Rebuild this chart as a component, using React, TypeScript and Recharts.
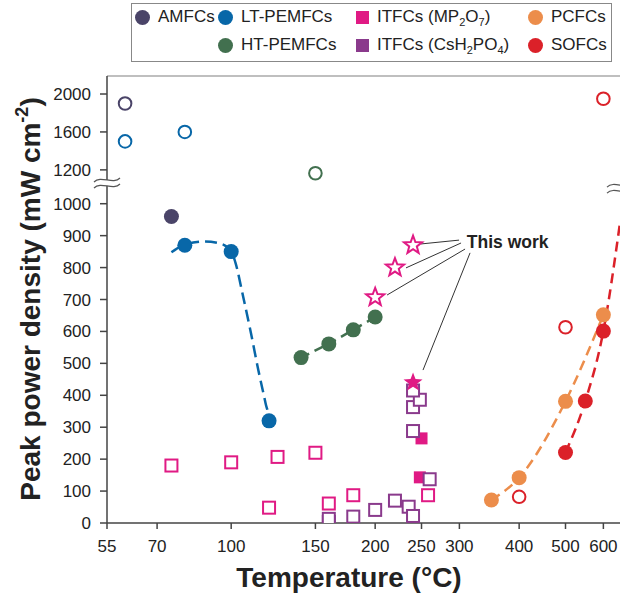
import React from 'react'
import {
  ComposedChart,
  Scatter,
  Line,
  XAxis,
  YAxis,
  ReferenceLine,
  ReferenceDot,
} from 'recharts'

// temperature (°C) and peak power density (mW cm-2)
const amfcOpenT = [60]
const amfcOpenP = [1900]
const amfcT = [75]
const amfcP = [960]

const ltOpenT = [60, 80]
const ltOpenP = [1500, 1600]
const ltT = [80, 100, 120]
const ltP = [870, 850, 320]
const ltFitT = [75, 80, 88, 95, 100, 102, 106, 110, 114, 118, 120, 120.5]
const ltFitP = [848, 872, 882, 875, 852, 817, 707, 594, 478, 375, 322, 290]

const htOpenT = [150]
const htOpenP = [1180]
const htT = [140, 160, 180, 200]
const htP = [518, 561, 605, 645]

const mpOpenT = [75, 100, 120, 125, 150, 160, 180, 258]
const mpOpenP = [180, 190, 48, 207, 220, 61, 87, 87]
const mpT = [250, 248]
const mpP = [265, 143]

const csOpenT = [160, 160, 180, 200, 220, 235, 240, 240, 240, 248, 240, 260]
const csOpenP = [3, 13, 20, 41, 70, 51, 22, 288, 363, 386, 415, 137]

const starOpenT = [200, 220, 240]
const starOpenP = [707, 800, 870]
const starT = [240]
const starP = [440]

const pcT = [350, 400, 500, 600]
const pcP = [72, 142, 381, 652]

const soOpenT = [400, 500, 600]
const soOpenP = [82, 613, 1950]
const soT = [500, 550, 600]
const soP = [221, 382, 601]
const soFitT = [500, 550, 600, 650]
const soFitP = [221, 382, 601, 940]

const xTicks = [55, 70, 100, 150, 200, 250, 300, 400, 500, 600]
const yTicks = [0, 100, 200, 300, 400, 500, 600, 700, 800, 900, 1000, 1200, 1600, 2000]

// "This work" leader lines: [label end, marker end]
const leaderT = [[299.5, 249.4], [302.4, 232], [308.3, 211.8], [315.8, 251.8]]
const leaderP = [[886, 874], [877, 799], [858, 714], [846, 479]]

const C = {
  amfc: '#4a4468',
  lt: '#0867a8',
  ht: '#42704f',
  mp: '#e01a84',
  cs: '#8a3a8c',
  pc: '#ec8d4b',
  so: '#db2129',
}

const FONT = 'Arial, "Liberation Sans", Helvetica, sans-serif'

// broken y axis: squeeze everything above 1000
const yT = (v: number) =>
  v <= 1000 ? v : v < 1200 ? 1000 + (v - 1000) * 0.53 : 1106 + (v - 1200) * 0.297

const pts = (t: number[], p: number[]) => t.map((x, i) => ({ x, y: yT(p[i]) }))

const dot = (color: string) => (p: any) => <circle cx={p.cx} cy={p.cy} r={7.5} fill={color} />
const ring = (color: string) => (p: any) => (
  <circle cx={p.cx} cy={p.cy} r={6.3} fill="none" stroke={color} strokeWidth={2} />
)
const box = (color: string) => (p: any) => (
  <rect x={p.cx - 6} y={p.cy - 6} width={12} height={12} fill="#fff" stroke={color} strokeWidth={2} />
)
const block = (color: string) => (p: any) => (
  <rect x={p.cx - 6} y={p.cy - 6} width={12} height={12} fill={color} />
)
const starPath = (cx: number, cy: number, ro: number, ri: number) => {
  let d = ''
  for (let i = 0; i < 10; i++) {
    const r = i % 2 === 0 ? ro : ri
    const a = -Math.PI / 2 + (i * Math.PI) / 5
    d += (i === 0 ? 'M' : 'L') + (cx + r * Math.cos(a)).toFixed(2) + ',' + (cy + r * Math.sin(a)).toFixed(2)
  }
  return d + 'Z'
}
const star = (color: string, filled: boolean) => (p: any) => (
  <path
    d={starPath(p.cx, p.cy, filled ? 10 : 9.5, filled ? 4.2 : 4)}
    fill={filled ? color : '#fff'}
    stroke={color}
    strokeWidth={filled ? 0 : 2}
    strokeLinejoin="miter"
  />
)

const breakMark = (p: any) => (
  <g>
    <rect x={p.cx - 3} y={p.cy - 3} width={6} height={6} fill="#fff" />
    <path
      d={`M${p.cx - 13},${p.cy - 1} C${p.cx - 6},${p.cy - 8} ${p.cx + 6},${p.cy + 2} ${p.cx + 13},${p.cy - 5}`}
      fill="none"
      stroke="#555"
      strokeWidth={1.2}
    />
    <path
      d={`M${p.cx - 13},${p.cy + 5} C${p.cx - 6},${p.cy - 2} ${p.cx + 6},${p.cy + 8} ${p.cx + 13},${p.cy + 1}`}
      fill="none"
      stroke="#555"
      strokeWidth={1.2}
    />
  </g>
)

const Sub = ({ children }: { children: React.ReactNode }) => (
  <sub style={{ fontSize: 11, verticalAlign: -4, lineHeight: 0 }}>{children}</sub>
)

const legendItems = [
  { color: C.amfc, kind: 'circle', x: 143, y: 17, label: <>AMFCs</> },
  { color: C.lt, kind: 'circle', x: 226, y: 17, label: <>LT-PEMFCs</> },
  { color: C.ht, kind: 'circle', x: 226, y: 45, label: <>HT-PEMFCs</> },
  { color: C.mp, kind: 'square', x: 363, y: 17, label: <>ITFCs (MP<Sub>2</Sub>O<Sub>7</Sub>)</> },
  { color: C.cs, kind: 'square', x: 363, y: 45, label: <>ITFCs (CsH<Sub>2</Sub>PO<Sub>4</Sub>)</> },
  { color: C.pc, kind: 'circle', x: 536, y: 17, label: <>PCFCs</> },
  { color: C.so, kind: 'circle', x: 536, y: 45, label: <>SOFCs</> },
]

function Legend() {
  return (
    <>
      <div
        style={{
          position: 'absolute',
          left: 131,
          top: 3,
          width: 481,
          height: 59,
          border: '1px solid #888',
          boxSizing: 'border-box',
        }}
      />
      {legendItems.map((it, i) => (
        <div
          key={i}
          style={{
            position: 'absolute',
            left: it.x - 8,
            top: it.y - 10,
            height: 20,
            display: 'flex',
            alignItems: 'center',
            fontFamily: FONT,
            fontSize: 17,
            color: '#222',
            whiteSpace: 'nowrap',
          }}
        >
          <span
            style={{
              display: 'inline-block',
              width: it.kind === 'circle' ? 15 : 13,
              height: it.kind === 'circle' ? 15 : 13,
              borderRadius: it.kind === 'circle' ? '50%' : 0,
              background: it.color,
              marginRight: 8,
              marginLeft: it.kind === 'circle' ? 0 : 1,
            }}
          />
          <span>{it.label}</span>
        </div>
      ))}
    </>
  )
}

export default function App() {
  const tickStyle = { fontSize: 17, fill: '#222', fontFamily: FONT }
  return (
    <div style={{ position: 'absolute', left: 0, top: 0, width: 620, height: 596, background: '#fff' }}>
      <ComposedChart width={620} height={596} margin={{ top: 76, right: 0, bottom: 0, left: 0 }}>
        <XAxis
          dataKey="x"
          type="number"
          scale="log"
          domain={[55, 650]}
          allowDataOverflow
          ticks={xTicks}
          height={73}
          tick={tickStyle}
          tickSize={6}
          tickMargin={11}
          axisLine={{ stroke: '#444', strokeWidth: 1.5 }}
          tickLine={{ stroke: '#444', strokeWidth: 1.5 }}
          label={{
            content: () => (
              <text x={349} y={587} textAnchor="middle" fontFamily={FONT} fontWeight="bold" fontSize={28} fill="#222">
                Temperature (°C)
              </text>
            ),
          }}
        />
        <YAxis
          dataKey="y"
          type="number"
          domain={[0, 1400]}
          allowDataOverflow
          ticks={yTicks.map(yT)}
          tickFormatter={(v: number) => String(yTicks[yTicks.map(yT).indexOf(v)] ?? '')}
          width={107}
          tick={tickStyle}
          tickSize={7}
          tickMargin={9}
          axisLine={{ stroke: '#444', strokeWidth: 1.5 }}
          tickLine={{ stroke: '#444', strokeWidth: 1.5 }}
          label={{
            content: () => (
              <text
                x={40}
                y={299}
                transform="rotate(-90 40 299)"
                textAnchor="middle"
                fontFamily={FONT}
                fontWeight="bold"
                fontSize={28}
                fill="#222"
              >
                Peak power density (mW cm
                <tspan dy={-12} fontSize={18}>-2</tspan>
                <tspan dy={12}>)</tspan>
              </text>
            ),
          }}
        />
        <ReferenceLine y={1400} stroke="#aaa" strokeWidth={1.5} />

        <Line data={pts(ltFitT, ltFitP)} dataKey="y" type="monotone" stroke={C.lt} strokeWidth={2.5} strokeDasharray="12 6" dot={false} isAnimationActive={false} />
        <Line data={pts(htT, htP)} dataKey="y" type="linear" stroke={C.ht} strokeWidth={2.5} strokeDasharray="9 6" dot={false} isAnimationActive={false} />
        <Line data={pts(pcT, pcP)} dataKey="y" type="monotone" stroke={C.pc} strokeWidth={2.5} strokeDasharray="10 6" dot={false} isAnimationActive={false} />
        <Line data={pts(soFitT, soFitP)} dataKey="y" type="monotone" stroke={C.so} strokeWidth={2.5} strokeDasharray="10 6" dot={false} isAnimationActive={false} />

        {leaderT.map((t, i) => (
          <ReferenceLine
            key={i}
            segment={[
              { x: t[0], y: leaderP[i][0] },
              { x: t[1], y: leaderP[i][1] },
            ]}
            stroke="#333"
            strokeWidth={1}
          />
        ))}

        <Scatter data={pts(amfcOpenT, amfcOpenP)} shape={ring(C.amfc)} isAnimationActive={false} />
        <Scatter data={pts(amfcT, amfcP)} shape={dot(C.amfc)} isAnimationActive={false} />
        <Scatter data={pts(ltOpenT, ltOpenP)} shape={ring(C.lt)} isAnimationActive={false} />
        <Scatter data={pts(ltT, ltP)} shape={dot(C.lt)} isAnimationActive={false} />
        <Scatter data={pts(htOpenT, htOpenP)} shape={ring(C.ht)} isAnimationActive={false} />
        <Scatter data={pts(htT, htP)} shape={dot(C.ht)} isAnimationActive={false} />
        <Scatter data={pts(mpT, mpP)} shape={block(C.mp)} isAnimationActive={false} />
        <Scatter data={pts(mpOpenT, mpOpenP)} shape={box(C.mp)} isAnimationActive={false} />
        <Scatter data={pts(csOpenT, csOpenP)} shape={box(C.cs)} isAnimationActive={false} />
        <Scatter data={pts(starOpenT, starOpenP)} shape={star(C.mp, false)} isAnimationActive={false} />
        <Scatter data={pts(starT, starP)} shape={star(C.mp, true)} isAnimationActive={false} />
        <Scatter data={pts(pcT, pcP)} shape={dot(C.pc)} isAnimationActive={false} />
        <Scatter data={pts(soOpenT, soOpenP)} shape={ring(C.so)} isAnimationActive={false} />
        <Scatter data={pts(soT, soP)} shape={dot(C.so)} isAnimationActive={false} />

        <ReferenceDot x={55} y={1065} r={0} ifOverflow="visible" shape={breakMark} />
        <ReferenceDot x={650} y={1049} r={0} ifOverflow="visible" shape={breakMark} />
        <ReferenceDot
          x={311}
          y={880}
          r={0}
          shape={(p: any) => (
            <text x={p.cx} y={p.cy + 6} fontFamily={FONT} fontWeight="bold" fontSize={17.5} fill="#222">
              This work
            </text>
          )}
        />
      </ComposedChart>
      <Legend />
    </div>
  )
}
